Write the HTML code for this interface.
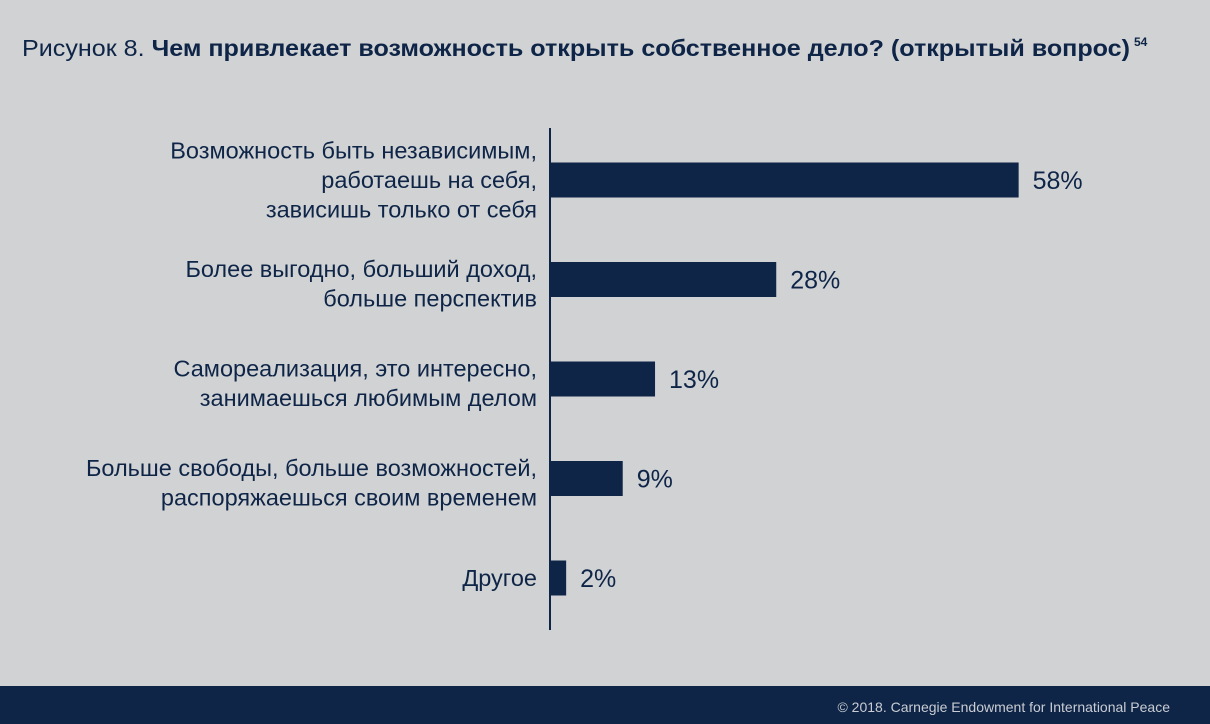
<!DOCTYPE html>
<html><head><meta charset="utf-8"><style>
html,body{margin:0;padding:0;background:#d1d2d4;}
svg{display:block;font-family:"Liberation Sans","DejaVu Sans",sans-serif;}
</style></head><body>
<svg width="1210" height="724" viewBox="0 0 1210 724">
<rect x="0" y="0" width="1210" height="724" fill="#d1d2d4"/>
<text x="22" y="56" font-size="23" fill="#0e2547" textLength="1108" lengthAdjust="spacingAndGlyphs">Рисунок 8. <tspan font-weight="bold">Чем привлекает возможность открыть собственное дело? (открытый вопрос)</tspan></text>
<text x="1134" y="46" font-size="12" font-weight="bold" fill="#0e2547">54</text>
<g id="bars"></g>
<line x1="550" y1="128" x2="550" y2="630" stroke="#0e2547" stroke-width="2"/>
<rect x="0" y="686" width="1210" height="38" fill="#0e2547"/>
<text x="1170" y="712" font-size="14" fill="#c9ccd3" text-anchor="end">© 2018. Carnegie Endowment for International Peace</text>
</svg>
<script>
const categories = [
  ["Возможность быть независимым,","работаешь на себя,","зависишь только от себя"],
  ["Более выгодно, больший доход,","больше перспектив"],
  ["Самореализация, это интересно,","занимаешься любимым делом"],
  ["Больше свободы, больше возможностей,","распоряжаешься своим временем"],
  ["Другое"]
];
const values = [58, 28, 13, 9, 2];
const valueLabels = ["58%","28%","13%","9%","2%"];
const NS = "http://www.w3.org/2000/svg";
const g = document.getElementById("bars");
const x0 = 550, pxPer = 8.08;
const xScale = v => x0 + v * pxPer;
const yCenter = i => 180 + i * 99.5;
values.forEach((v, i) => {
  const cy = yCenter(i);
  const r = document.createElementNS(NS, "rect");
  r.setAttribute("x", x0);
  r.setAttribute("y", cy - 17.5);
  r.setAttribute("width", xScale(v) - x0);
  r.setAttribute("height", 35);
  r.setAttribute("fill", "#0e2547");
  
  
  g.appendChild(r);
  const t = document.createElementNS(NS, "text");
  t.setAttribute("x", xScale(v) + 14);
  t.setAttribute("y", cy + 9);
  t.setAttribute("font-size", "25");
  t.setAttribute("fill", "#0e2547");
  t.textContent = valueLabels[i];
  
  
  g.appendChild(t);
  const lines = categories[i];
  const lh = 29.5;
  const start = cy - (lines.length - 1) * lh / 2 + 8 + (lines.length === 2 ? 4 : 0);
  lines.forEach((ln, j) => {
    const c = document.createElementNS(NS, "text");
    c.setAttribute("x", 537);
    c.setAttribute("y", start + j * lh);
    c.setAttribute("font-size", "23.5");
    c.setAttribute("fill", "#0e2547");
    c.setAttribute("text-anchor", "end");
    c.textContent = ln;
    
    
    g.appendChild(c);
  });
});
</script>
</body></html>
